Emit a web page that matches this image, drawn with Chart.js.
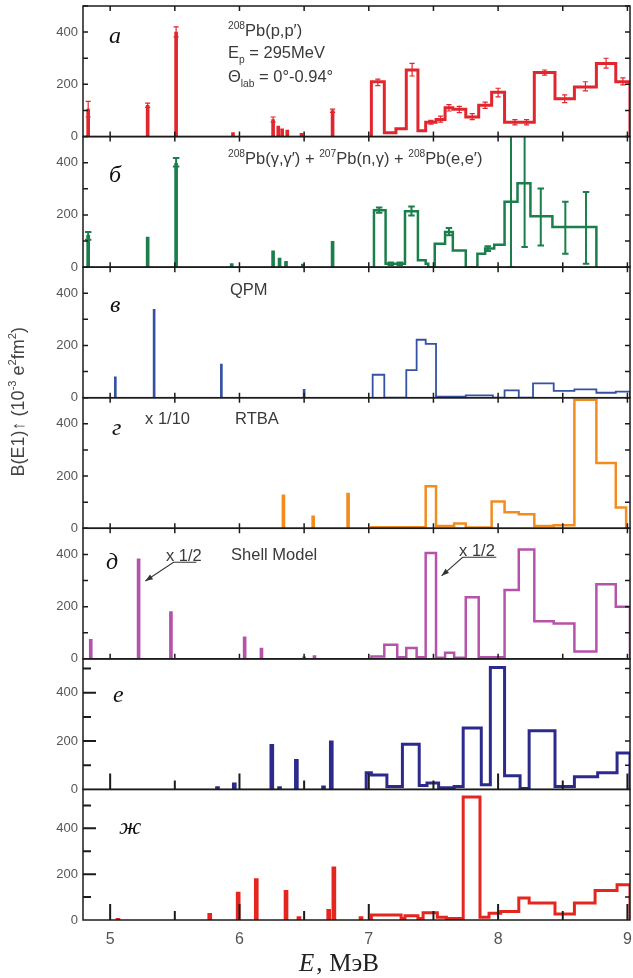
<!DOCTYPE html>
<html lang="ru">
<head>
<meta charset="UTF-8">
<title>B(E1) strength in 208Pb</title>
<script src="https://cdn.jsdelivr.net/npm/chart.js"></script>
<style>
  html, body { margin: 0; padding: 0; background: #fff; }
  #wrap { position: relative; width: 633px; height: 978px; }
</style>
</head>
<body>
<div id="wrap"><canvas id="strength" width="633" height="978"></canvas></div>

<script>
// ---- tick labels ----
const energyTicks = [5, 6, 7, 8, 9];
const strengthTicks = [0, 200, 400];

// ---- а: 208Pb(p,p') ----
const aSpikeE = [4.83, 5.29, 5.51, 5.95, 6.26, 6.30, 6.33, 6.37, 6.48, 6.72];
const aSpikeB = [105, 120, 400, 15, 65, 40, 30, 25, 12, 100];
const aEdges  = [7.02, 7.12, 7.21, 7.29, 7.38, 7.44, 7.52, 7.59, 7.65, 7.75, 7.85, 7.95, 8.05, 8.28, 8.44, 8.59, 8.76, 8.91, 9.02];
const aValues = [210, 15, 30, 255, 22, 55, 65, 110, 105, 75, 120, 170, 55, 245, 145, 190, 280, 210];
const aErrE  = [4.83, 5.29, 5.51, 6.26, 6.72, 7.07, 7.335, 7.48, 7.555, 7.62, 7.70, 7.80, 7.90, 8.00, 8.13, 8.22, 8.36, 8.515, 8.675, 8.835, 8.965];
const aErrLo = [75, 112, 382, 55, 93, 195, 232, 48, 55, 98, 92, 65, 108, 152, 45, 45, 235, 130, 175, 262, 198];
const aErrHi = [135, 128, 420, 75, 105, 220, 280, 62, 78, 122, 116, 88, 132, 185, 65, 65, 255, 160, 210, 300, 225];

// ---- б: (γ,γ') + (n,γ) + (e,e') ----
const bSpikeE = [4.83, 5.29, 5.51, 5.94, 6.26, 6.31, 6.36, 6.49, 6.72];
const bSpikeB = [122, 115, 398, 14, 62, 35, 22, 12, 99];
const bEdges  = [7.04, 7.13, 7.28, 7.38, 7.44, 7.46, 7.51, 7.59, 7.65, 7.75, 7.84, 7.90, 7.97, 8.05, 8.15, 8.25, 8.42, 8.76];
const bValues = [218, 13, 214, 26, 13, 0, 90, 135, 64, 0, 51, 71, 86, 250, 321, 195, 154];
const bErrE  = [4.83, 5.51, 7.08, 7.17, 7.24, 7.33, 7.62, 7.92, 8.10, 8.205, 8.33, 8.52, 8.68];
const bErrLo = [105, 385, 208, 8, 8, 198, 122, 62, 0, 77, 83, 51, 13];
const bErrHi = [135, 418, 228, 18, 18, 232, 150, 80, 600, 600, 301, 250, 288];

// ---- в: QPM ----
const cSpikeE = [5.04, 5.34, 5.86, 6.50];
const cSpikeB = [80, 338, 129, 32];
const cEdges  = [7.03, 7.12, 7.29, 7.37, 7.44, 7.52, 7.75, 7.96, 8.05, 8.16, 8.27, 8.43, 8.59, 8.76, 8.91, 9.02];
const cValues = [88, 0, 106, 222, 206, 4, 9, 0, 28, 0, 55, 26, 32, 19, 23];

// ---- г: RTBA ----
const dSpikeE = [6.34, 6.57, 6.84];
const dSpikeB = [128, 48, 135];
const dEdges  = [7.02, 7.44, 7.52, 7.66, 7.75, 7.95, 8.05, 8.16, 8.28, 8.43, 8.59, 8.76, 8.91, 8.99];
const dValues = [4, 161, 9, 18, 3, 103, 61, 54, 9, 12, 492, 250, 80];

// ---- д: Shell Model ----
const eSpikeE = [4.85, 5.22, 5.47, 6.04, 6.17, 6.50, 6.58];
const eSpikeB = [75, 383, 181, 84, 41, 8, 13];
const eEdges  = [7.02, 7.12, 7.22, 7.29, 7.37, 7.44, 7.52, 7.59, 7.66, 7.75, 7.85, 8.05, 8.16, 8.28, 8.43, 8.59, 8.76, 8.91, 9.02];
const eValues = [9, 54, 6, 42, 6, 405, 4, 23, 4, 236, 6, 264, 419, 144, 135, 28, 286, 200];

// ---- е ----
const fSpikeE = [5.83, 5.96, 6.25, 6.31, 6.44, 6.65, 6.71];
const fSpikeB = [12, 27, 187, 12, 124, 15, 201];
const fEdges  = [6.98, 7.02, 7.14, 7.26, 7.39, 7.45, 7.54, 7.66, 7.73, 7.87, 7.94, 8.05, 8.17, 8.24, 8.44, 8.59, 8.77, 8.92, 9.02];
const fValues = [69, 60, 12, 187, 16, 27, 7, 12, 254, 19, 504, 57, 4, 243, 12, 52, 69, 151];

// ---- ж ----
const gSpikeE = [5.06, 5.77, 5.99, 6.13, 6.36, 6.46, 6.69, 6.73, 6.94];
const gSpikeB = [7, 29, 122, 181, 129, 15, 47, 232, 15];
const gEdges  = [7.02, 7.25, 7.28, 7.38, 7.42, 7.53, 7.60, 7.73, 7.86, 7.93, 8.02, 8.16, 8.24, 8.44, 8.59, 8.75, 8.92, 9.02];
const gValues = [22, 7, 19, 7, 32, 12, 7, 537, 12, 29, 37, 96, 74, 26, 74, 129, 154];

// panels, top to bottom
const panels = [
  { id: 'ya', max: 500, color: '#e2262d', line: 3,   bar: 3, spikeE: aSpikeE, spikeB: aSpikeB, edges: aEdges, values: aValues,
    errE: aErrE, errLo: aErrLo, errHi: aErrHi, cap: 0.02, errWidth: 1.2 },
  { id: 'yb', max: 500, color: '#1a7f4b', line: 2.5, bar: 3, spikeE: bSpikeE, spikeB: bSpikeB, edges: bEdges, values: bValues,
    errE: bErrE, errLo: bErrLo, errHi: bErrHi, cap: 0.025, errWidth: 2 },
  { id: 'yc', max: 500, color: '#3452a3', line: 1.8, bar: 2, spikeE: cSpikeE, spikeB: cSpikeB, edges: cEdges, values: cValues },
  { id: 'yd', max: 500, color: '#f28c1f', line: 2.5, bar: 3, spikeE: dSpikeE, spikeB: dSpikeB, edges: dEdges, values: dValues },
  { id: 'ye', max: 500, color: '#b652ab', line: 2.5, bar: 3, spikeE: eSpikeE, spikeB: eSpikeB, edges: eEdges, values: eValues },
  { id: 'yf', max: 540, color: '#2c2b8d', line: 3,   bar: 4, spikeE: fSpikeE, spikeB: fSpikeB, edges: fEdges, values: fValues, longTicks: true },
  { id: 'yg', max: 570, color: '#e5261f', line: 3,   bar: 4, spikeE: gSpikeE, spikeB: gSpikeB, edges: gEdges, values: gValues, longTicks: true }
];

// step outline: each value holds from its edge to the next one
function histPoints(edges, values) {
  const pts = [{ x: edges[0], y: 0 }];
  values.forEach((v, i) => pts.push({ x: edges[i], y: v }));
  pts.push({ x: edges[edges.length - 1], y: 0 });
  return pts;
}

// vertical bar plus two caps per point, separated by gaps
function errPoints(e, lo, hi, cap) {
  const pts = [];
  e.forEach((x, i) => {
    pts.push({ x, y: lo[i] }, { x, y: hi[i] }, { x, y: null });
    pts.push({ x: x - cap, y: hi[i] }, { x: x + cap, y: hi[i] }, { x, y: null });
    pts.push({ x: x - cap, y: lo[i] }, { x: x + cap, y: lo[i] }, { x, y: null });
  });
  return pts;
}

const datasets = [];
panels.forEach(p => {
  datasets.push({
    type: 'bar', yAxisID: p.id, grouped: false, borderWidth: 0,
    barThickness: p.bar, backgroundColor: p.color,
    data: p.spikeE.map((x, i) => ({ x, y: p.spikeB[i] }))
  });
  datasets.push({
    type: 'line', yAxisID: p.id, stepped: true, fill: false,
    borderColor: p.color, borderWidth: p.line, borderJoinStyle: 'miter', pointRadius: 0,
    data: histPoints(p.edges, p.values)
  });
  if (p.errE) {
    datasets.push({
      type: 'line', yAxisID: p.id, fill: false, spanGaps: false,
      borderColor: p.color, borderWidth: p.errWidth, pointRadius: 0,
      data: errPoints(p.errE, p.errLo, p.errHi, p.cap)
    });
  }
});

const scales = {
  x: {
    type: 'linear', min: 4.79, max: 9.02, offset: false,
    grid: { display: false, drawTicks: false, offset: false }, border: { display: false },
    ticks: { padding: 10, color: '#555', font: { size: 16 }, autoSkip: false, maxRotation: 0 },
    afterBuildTicks: s => { s.ticks = energyTicks.map(v => ({ value: v })); },
    afterFit: s => { s.height = 58; s.paddingLeft = 0; s.paddingRight = 0; }
  }
};
panels.forEach((p, i) => {
  scales[p.id] = {
    type: 'linear', position: 'left', stack: 'panels', stackWeight: 1, weight: panels.length - i,
    min: 0, max: p.max,
    grid: { display: false, drawTicks: false }, border: { display: false },
    ticks: { padding: 5, color: '#555', font: { size: 13 }, autoSkip: false },
    afterBuildTicks: s => { s.ticks = strengthTicks.map(v => ({ value: v })); },
    afterFit: s => { s.width = 83; s.paddingTop = 0; s.paddingBottom = 0; }
  };
});

// frame and inward ticks around every panel
const panelFrames = {
  id: 'panelFrames',
  afterDatasetsDraw(chart) {
    const ctx = chart.ctx, xs = chart.scales.x;
    const l = xs.left, r = xs.right;
    ctx.save();
    ctx.strokeStyle = '#1b1b1b';
    panels.forEach(p => {
      const ys = chart.scales[p.id];
      const top = ys.top, bot = ys.bottom;
      ctx.lineWidth = 1.5;
      ctx.strokeRect(l, top, r - l, bot - top);

      ctx.beginPath();
      for (let v = 100; v <= p.max; v += 100) {
        const y = ys.getPixelForValue(v);
        ctx.moveTo(r, y); ctx.lineTo(r - 5, y);
        if (!p.longTicks) { ctx.moveTo(l, y); ctx.lineTo(l + 5, y); }
      }
      for (let e = 5; e <= 9; e += 0.5) {
        const x = xs.getPixelForValue(e);
        if (!p.longTicks) {
          ctx.moveTo(x, bot); ctx.lineTo(x, bot - 5);
          ctx.moveTo(x, top); ctx.lineTo(x, top + 5);
        }
      }
      ctx.stroke();

      if (p.longTicks) {
        ctx.lineWidth = 2;
        ctx.beginPath();
        for (let v = 100; v <= p.max; v += 100) {
          const y = ys.getPixelForValue(v);
          ctx.moveTo(l, y); ctx.lineTo(l + (v % 200 === 0 ? 13 : 8), y);
        }
        for (let e = 5; e <= 9; e += 0.5) {
          const x = xs.getPixelForValue(e);
          ctx.moveTo(x, bot); ctx.lineTo(x, bot - (e % 1 === 0 ? 16 : 9));
        }
        ctx.stroke();
      }
    });
    ctx.restore();
  }
};

// text with super/subscripts, drawn left to right from (x, y)
function richWidth(ctx, parts, size, family) {
  let w = 0;
  parts.forEach(([t, kind]) => {
    ctx.font = `${kind ? size * 0.62 : size}px ${family}`;
    w += ctx.measureText(t).width;
  });
  return w;
}
function richText(ctx, x, y, parts, size, family) {
  parts.forEach(([t, kind]) => {
    const s = kind ? size * 0.62 : size;
    const dy = kind === 'sup' ? -size * 0.42 : kind === 'sub' ? size * 0.3 : 0;
    ctx.font = `${s}px ${family}`;
    ctx.fillText(t, x, y + dy);
    x += ctx.measureText(t).width;
  });
}

const SANS = "'Liberation Sans', Arial, sans-serif";
const SERIF = "'Liberation Serif', 'Times New Roman', serif";

// labels placed in data units of each panel: [axis, E, value, parts]
const notes = [
  ['ya', 5.911, 385, [['208', 'sup'], ['Pb(p,p′)', '']]],
  ['ya', 5.911, 301, [['E', ''], ['p', 'sub'], [' = 295MeV', '']]],
  ['ya', 5.911, 209, [['Θ', ''], ['lab', 'sub'], [' = 0°-0.94°', '']]],
  ['yb', 5.911, 395, [['208', 'sup'], ['Pb(γ,γ′) + ', ''], ['207', 'sup'], ['Pb(n,γ) + ', ''], ['208', 'sup'], ['Pb(e,e′)', '']]],
  ['yc', 5.927, 393, [['QPM', '']]],
  ['yd', 5.27, 399, [['x 1/10', '']]],
  ['yd', 5.966, 399, [['RTBA', '']]],
  ['ye', 5.432, 375, [['x 1/2', '']]],
  ['ye', 5.935, 379, [['Shell Model', '']]],
  ['ye', 7.698, 394, [['x 1/2', '']]]
];
const letters = [
  ['ya', 4.991, 358, 'а'], ['yb', 4.991, 326, 'б'], ['yc', 4.999, 328, 'в'], ['yd', 5.014, 356, 'г'],
  ['ye', 4.968, 344, 'д'], ['yf', 5.022, 362, 'е'], ['yg', 5.068, 375, 'ж']
];
// leader lines for the "x 1/2" marks: points from the label to the arrow tip
const leaders = [
  ['ye', [[5.667, 370], [5.49, 370], [5.272, 298]]],
  ['ye', [[7.986, 389], [7.726, 389], [7.563, 318]]]
];

const annotations = {
  id: 'annotations',
  afterDraw(chart) {
    const ctx = chart.ctx, xs = chart.scales.x;
    ctx.save();
    ctx.textBaseline = 'alphabetic';
    ctx.textAlign = 'left';
    ctx.fillStyle = '#3a3a3a';
    notes.forEach(([id, e, v, parts]) => {
      const ys = chart.scales[id];
      richText(ctx, xs.getPixelForValue(e), ys.getPixelForValue(v), parts, 16.5, SANS);
    });

    ctx.fillStyle = '#111';
    ctx.font = `italic 24px ${SERIF}`;
    letters.forEach(([id, e, v, t]) => {
      ctx.fillText(t, xs.getPixelForValue(e), chart.scales[id].getPixelForValue(v));
    });

    ctx.strokeStyle = '#333';
    ctx.fillStyle = '#333';
    ctx.lineWidth = 1.1;
    leaders.forEach(([id, pts]) => {
      const ys = chart.scales[id];
      const px = pts.map(([e, v]) => [xs.getPixelForValue(e), ys.getPixelForValue(v)]);
      ctx.beginPath();
      px.forEach(([x, y], i) => (i ? ctx.lineTo(x, y) : ctx.moveTo(x, y)));
      ctx.stroke();
      const [x1, y1] = px[px.length - 2], [x2, y2] = px[px.length - 1];
      const a = Math.atan2(y2 - y1, x2 - x1);
      ctx.beginPath();
      ctx.moveTo(x2, y2);
      ctx.lineTo(x2 - 8 * Math.cos(a - 0.35), y2 - 8 * Math.sin(a - 0.35));
      ctx.lineTo(x2 - 8 * Math.cos(a + 0.35), y2 - 8 * Math.sin(a + 0.35));
      ctx.closePath();
      ctx.fill();
    });

    // vertical axis title
    const yParts = [['B(E1)↑ (10', ''], ['-3', 'sup'], [' e', ''], ['2', 'sup'], ['fm', ''], ['2', 'sup'], [')', '']];
    const w = richWidth(ctx, yParts, 18, SANS);
    ctx.fillStyle = '#444';
    ctx.translate(17, chart.scales.yc.bottom + 4);
    ctx.rotate(-Math.PI / 2);
    richText(ctx, -w / 2, 7, yParts, 18, SANS);
    ctx.setTransform(1, 0, 0, 1, 0, 0);

    // horizontal axis title
    ctx.fillStyle = '#222';
    const x0 = xs.getPixelForValue(6.46), yb = chart.height - 7;
    ctx.font = `italic 25px ${SERIF}`;
    ctx.fillText('E', x0, yb);
    const wE = ctx.measureText('E').width;
    ctx.font = `25px ${SERIF}`;
    ctx.fillText(',', x0 + wE + 2, yb);
    ctx.fillText('МэВ', x0 + wE + 15, yb);
    ctx.restore();
  }
};

Chart.defaults.font.family = SANS;

new Chart(document.getElementById('strength'), {
  type: 'line',
  data: { datasets },
  options: {
    responsive: false,
    animation: false,
    devicePixelRatio: 1,
    events: [],
    layout: { padding: { top: 6, right: 3, left: 0, bottom: 0 } },
    plugins: { legend: { display: false }, tooltip: { enabled: false } },
    scales
  },
  plugins: [panelFrames, annotations]
});
</script>
</body>
</html>
